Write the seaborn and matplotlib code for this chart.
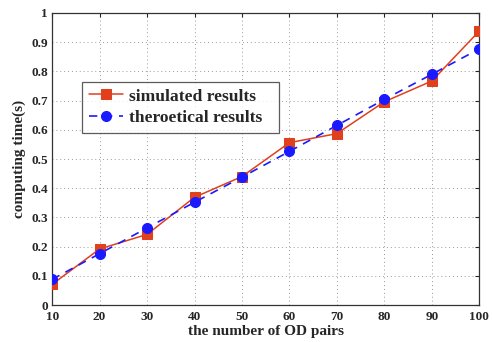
import matplotlib
matplotlib.use("Agg")
import matplotlib.pyplot as plt
import seaborn as sns
import pandas as pd

od_pairs = [10, 20, 30, 40, 50, 60, 70, 80, 90, 100]
simulated = [0.071, 0.192, 0.242, 0.369, 0.440, 0.556, 0.587, 0.696, 0.767, 0.938]
theoretical = [0.088, 0.176, 0.264, 0.352, 0.438, 0.526, 0.615, 0.704, 0.790, 0.877]
x_ticks = [10, 20, 30, 40, 50, 60, 70, 80, 90, 100]
y_ticks = [0, 0.1, 0.2, 0.3, 0.4, 0.5, 0.6, 0.7, 0.8, 0.9, 1]
y_tick_labels = ["0", "0.1", "0.2", "0.3", "0.4", "0.5", "0.6", "0.7", "0.8", "0.9", "1"]

sns.set_style("white")
plt.rcParams['font.family'] = ['Liberation Serif', 'DejaVu Serif']
plt.rcParams['font.weight'] = 'bold'

fig = plt.figure(figsize=(4.92, 3.42), dpi=100)
ax = fig.add_axes([0.106, 0.108, 0.868, 0.854])

df_sim = pd.DataFrame({"x": od_pairs, "y": simulated})
df_th = pd.DataFrame({"x": od_pairs, "y": theoretical})

sns.lineplot(data=df_sim, x="x", y="y", ax=ax, color="#e0401c", linewidth=1.1,
             marker="s", markersize=6.8, markeredgecolor="#e0401c",
             label="simulated results", zorder=3)
sns.lineplot(data=df_th, x="x", y="y", ax=ax, color="#1a1aff", linewidth=1.2,
             linestyle=(0, (5, 4)), marker="o", markersize=7.2,
             markeredgecolor="#1a1aff", label="theroetical results", zorder=4)

ax.set_xlim(10, 100)
ax.set_ylim(0, 1)
ax.set_xticks(x_ticks)
ax.set_yticks(y_ticks)
ax.set_yticklabels(y_tick_labels)
ax.tick_params(direction="in", length=3, labelsize=9.5, width=0.8, top=True, right=True,
               labeltop=False, labelright=False, pad=3)
ax.tick_params(axis="x", pad=4.5)
for lab in ax.get_xticklabels() + ax.get_yticklabels():
    lab.set_fontweight("bold")
ax.grid(True, linestyle=(0, (1, 3)), color="#999999", linewidth=0.7)
for s in ax.spines.values():
    s.set_color("#333333")
    s.set_linewidth(0.9)

ax.set_xlabel("the number of OD pairs", fontsize=11, fontweight="bold", labelpad=1)
ax.set_ylabel("computing time(s)", fontsize=11, fontweight="bold", labelpad=4)

leg = ax.legend(loc="upper left", bbox_to_anchor=(0.07, 0.5, 0.461, 0.265), mode="expand",
                fontsize=12.6, frameon=True, fancybox=False, edgecolor="#333333",
                borderpad=0.38, handlelength=1.95, labelspacing=0.3, handletextpad=0.35,
                borderaxespad=0)
leg.get_frame().set_linewidth(0.9)
for t in leg.get_texts():
    t.set_fontweight("bold")

fig.savefig("out.png", dpi=100)
